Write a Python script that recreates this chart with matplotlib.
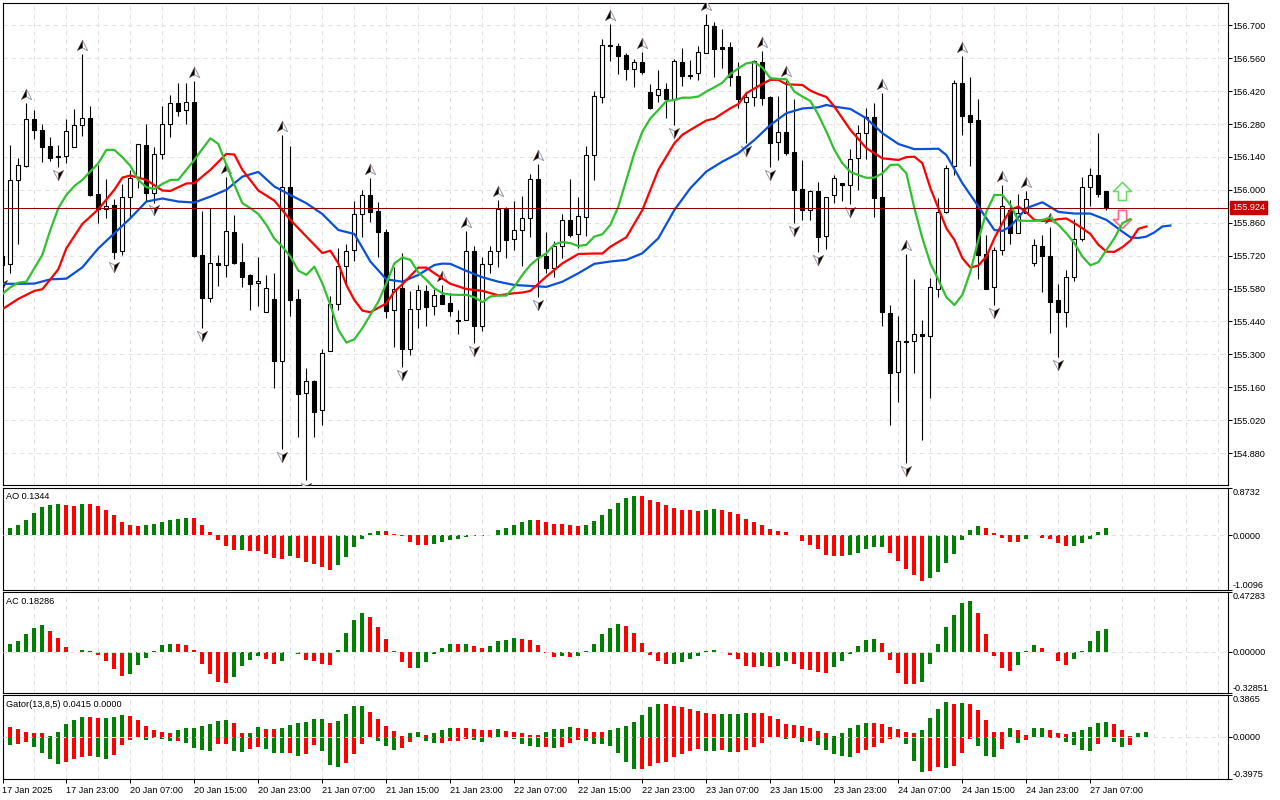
#===================================================================================
#=================================== Load Packages =================================
#===================================================================================

import matplotlib
matplotlib.use('Agg')
import matplotlib.pyplot as plt
from matplotlib.path import Path
from matplotlib.transforms import blended_transform_factory

plt.rcParams['font.family'] = ['Liberation Sans', 'DejaVu Sans']
plt.rcParams['font.size'] = 6.6

#===================================================================================
#=================================== Chart Data ====================================
#===================================================================================

open_p = [155.719,155.683,156.041,156.103,156.300,156.253,156.185,156.143,156.143,156.181,
156.275,156.304,155.981,155.917,155.934,155.739,155.968,156.056,156.190,155.988,
156.151,156.279,156.368,156.338,156.373,155.722,155.541,155.687,155.679,155.819,
155.692,155.636,155.602,155.482,155.534,155.273,156.014,155.534,155.134,155.185,
155.061,155.316,155.513,155.675,155.743,155.896,155.977,155.909,155.819,155.487,
155.581,155.324,155.492,155.568,155.504,155.553,155.517,155.445,155.445,155.739,
155.422,155.683,155.739,155.917,155.790,155.828,155.879,156.045,155.719,155.669,
155.760,155.870,155.811,155.886,156.147,156.394,156.615,156.611,156.573,156.513,
156.543,156.415,156.402,156.428,156.388,156.543,156.490,156.496,156.581,156.696,
156.607,156.607,156.483,156.373,156.394,156.543,156.394,156.202,156.245,156.160,
156.002,155.913,155.994,155.802,155.977,156.028,156.019,156.134,156.241,156.309,
155.968,155.475,155.224,155.353,155.356,155.385,155.377,155.577,155.904,156.100,
156.453,156.317,156.296,155.726,155.585,155.743,155.913,155.815,155.900,155.687,
155.760,155.717,155.530,155.479,155.631,155.792,156.011,156.062,155.994]

high_p = [155.815,156.191,156.134,156.368,156.340,156.279,156.224,156.191,156.300,156.343,
156.578,156.356,156.106,156.045,155.960,156.024,156.085,156.194,156.279,156.181,
156.356,156.402,156.453,156.453,156.463,155.909,155.924,155.722,156.056,155.892,
155.773,155.641,155.713,155.636,155.645,156.234,156.187,155.577,155.241,155.190,
155.322,155.548,155.751,155.768,155.951,155.998,156.049,155.947,155.832,155.670,
155.730,155.570,155.595,155.595,155.577,155.595,155.560,155.487,155.825,155.761,
155.713,155.761,155.957,155.926,155.953,155.974,156.068,156.110,155.819,155.781,
155.896,156.046,155.970,156.187,156.421,156.641,156.706,156.624,156.581,156.556,
156.587,156.451,156.510,156.453,156.556,156.604,156.553,156.611,156.748,156.716,
156.683,156.628,156.543,156.411,156.553,156.591,156.400,156.400,156.468,156.385,
156.127,155.998,156.032,155.968,156.062,156.028,156.174,156.275,156.347,156.368,
156.411,155.509,155.462,155.726,155.619,155.445,155.624,155.964,156.104,156.466,
156.568,156.479,156.385,155.807,155.756,156.019,155.956,155.981,155.994,155.790,
155.807,155.841,155.598,155.658,155.875,156.053,156.092,156.241,155.994]

low_p = [155.631,155.648,155.770,156.096,156.215,156.120,156.124,156.099,156.116,156.181,
156.229,155.975,155.858,155.882,155.704,155.723,155.886,156.007,155.954,155.946,
156.130,156.226,156.312,156.278,155.716,155.411,155.524,155.591,155.631,155.685,
155.588,155.490,155.507,155.478,155.158,154.897,155.461,154.950,154.766,154.950,
154.999,155.316,155.489,155.602,155.699,155.801,155.865,155.713,155.456,155.333,
155.248,155.299,155.414,155.422,155.468,155.514,155.463,155.388,155.444,155.350,
155.401,155.645,155.673,155.710,155.744,155.676,155.798,155.546,155.645,155.628,
155.709,155.801,155.751,155.805,156.042,156.371,156.550,156.493,156.468,156.439,
156.493,156.343,156.374,156.307,156.276,156.442,156.470,156.468,156.581,156.482,
156.519,156.442,156.346,156.198,156.357,156.360,156.099,156.127,156.147,155.860,
155.872,155.872,155.737,155.750,155.946,155.954,155.941,156.000,156.133,155.886,
155.422,154.999,155.099,154.839,155.222,154.937,155.116,155.546,155.900,156.061,
156.235,156.103,155.619,155.577,155.510,155.723,155.768,155.815,155.900,155.676,
155.567,155.390,155.287,155.415,155.614,155.784,155.931,155.971,155.912]

close_p = [155.680,156.041,156.104,156.300,156.253,156.184,156.137,156.139,156.249,156.275,
156.304,155.980,155.917,155.933,155.737,155.968,156.052,156.194,155.988,156.151,
156.279,156.368,156.337,156.373,155.719,155.541,155.687,155.679,155.824,155.687,
155.631,155.601,155.611,155.581,155.273,156.014,155.533,155.133,155.185,155.056,
155.304,155.513,155.675,155.739,155.896,155.977,155.904,155.819,155.486,155.577,
155.324,155.492,155.573,155.503,155.551,155.514,155.486,155.441,155.739,155.422,
155.683,155.739,155.917,155.787,155.828,155.879,156.045,155.719,155.669,155.761,
155.870,155.807,155.887,156.147,156.398,156.615,156.611,156.571,156.512,156.543,
156.502,156.346,156.428,156.385,156.547,156.486,156.485,156.585,156.700,156.601,
156.601,156.482,156.385,156.394,156.547,156.392,156.201,156.245,156.158,155.998,
155.912,155.994,155.801,155.968,156.049,156.019,156.130,156.241,156.309,155.967,
155.478,155.222,155.356,155.356,155.385,155.377,155.585,155.904,156.092,156.453,
156.316,156.290,155.724,155.580,155.743,155.930,155.815,155.900,155.960,155.764,
155.717,155.524,155.479,155.631,155.792,156.011,156.062,155.984,155.926]

jaw_x = [0,2,4,6,8,10,12,14,16,18,20,22,24,26,28,30,32,34,36,38,40,42,44,46,48,50,52,54,55,56,58,60,
62,64,66,68,70,72,74,76,78,80,82,84,86,88,90,92,94,96,98,100,102,103,104,106,108,110,112,114,116,117,
118,120,122,124,125,126,128,130,132,134,136,138,140,141,142,143,144,145,146]
jaw_y = [155.600,155.600,155.601,155.619,155.622,155.670,155.751,155.815,155.879,155.950,155.963,155.950,
155.946,155.971,156.000,156.056,156.076,156.014,155.978,155.943,155.897,155.829,155.812,155.695,155.619,
155.609,155.638,155.680,155.686,155.685,155.655,155.628,155.609,155.595,155.591,155.587,155.609,155.645,
155.685,155.695,155.702,155.730,155.794,155.914,156.007,156.078,156.120,156.156,156.212,156.276,156.326,
156.346,156.351,156.361,156.354,156.344,156.304,156.241,156.195,156.173,156.174,156.175,156.148,156.028,
155.929,155.829,155.825,155.844,155.922,155.947,155.906,155.899,155.899,155.872,155.822,155.798,155.795,
155.801,155.819,155.844,155.848]

teeth_x = [0,2,4,5,6,7,8,10,12,14,15,16,18,20,21,23,24,26,28,29,30,32,34,36,38,40,41,42,43,44,45,46,48,49,
50,52,53,54,56,58,60,62,64,65,66,68,70,72,74,75,76,78,80,82,84,85,86,88,89,91,92,93,95,96,97,98,100,101,
102,103,104,106,108,110,112,113,114,115,116,118,119,120,121,122,123,124,125,126,127,128,129,130,131,132,
133,134,135,136,137,138,139,140,141,142,143]
teeth_y = [155.492,155.536,155.570,155.577,155.619,155.662,155.751,155.855,155.917,156.000,156.052,156.061,
156.042,155.997,155.995,156.027,156.028,156.085,156.153,156.150,156.085,155.997,155.954,155.872,155.801,
155.731,155.741,155.687,155.595,155.531,155.486,155.479,155.517,155.567,155.598,155.669,155.669,155.645,
155.600,155.578,155.570,155.551,155.560,155.563,155.570,155.631,155.687,155.727,155.729,155.729,155.758,
155.798,155.914,156.085,156.198,156.234,156.255,156.295,156.303,156.347,156.365,156.411,156.451,156.468,
156.468,156.449,156.446,156.422,156.407,156.395,156.354,156.255,156.177,156.134,156.127,156.139,156.141,
156.113,156.007,155.836,155.787,155.709,155.669,155.678,155.716,155.794,155.858,155.914,155.929,155.904,
155.872,155.868,155.869,155.875,155.878,155.858,155.836,155.812,155.766,155.737,155.736,155.756,155.784,
155.834,155.844]

lips_y = [155.557,155.585,155.605,155.609,155.666,155.723,155.829,155.922,155.978,156.016,
156.042,156.078,156.113,156.170,156.170,156.139,156.102,156.042,156.011,156.004,
156.025,156.042,156.043,156.085,156.127,156.174,156.219,156.195,156.106,156.021,
155.943,155.922,155.897,155.851,155.792,155.758,155.716,155.656,155.638,155.673,
155.602,155.510,155.404,155.350,155.364,155.411,155.468,155.524,155.602,155.687,
155.712,155.702,155.648,155.617,155.581,155.560,155.554,155.553,155.553,155.543,
155.522,155.546,155.550,155.550,155.588,155.638,155.680,155.709,155.730,155.768,
155.778,155.773,155.761,155.766,155.801,155.811,155.851,155.929,156.042,156.156,
156.248,156.304,156.340,156.378,156.382,156.392,156.392,156.397,156.418,156.436,
156.456,156.493,156.517,156.538,156.543,156.520,156.475,156.472,156.470,156.418,
156.397,156.378,156.319,156.248,156.170,156.113,156.076,156.063,156.051,156.052,
156.070,156.106,156.107,156.070,155.922,155.794,155.687,155.617,155.543,155.510,
155.553,155.652,155.787,155.907,155.978,155.978,155.936,155.869,155.868,155.868,
155.872,155.882,155.851,155.815,155.773,155.716,155.679,155.692,155.744,155.794,
155.858,155.875]

fractal_up = [3,10,24,28,35,46,55,58,62,67,76,80,88,95,98,110,113,120,125,128,131]
fractal_down = [0,7,14,19,25,35,38,50,59,67,84,93,96,99,102,106,113,124,132]

ao = [.073,.128,.183,.275,.403,.513,.550,.569,.550,.532,
.569,.569,.532,.458,.367,.238,.183,.165,.183,.202,
.238,.275,.293,.312,.312,.183,.055,-.092,-.202,-.275,
-.275,-.293,-.293,-.348,-.422,-.440,-.385,-.422,-.495,-.532,
-.587,-.642,-.550,-.403,-.220,-.073,.037,.073,.073,.018,
-.018,-.128,-.183,-.183,-.165,-.128,-.092,-.073,-.037,-.012,
-.012,.012,.092,.128,.183,.238,.275,.275,.238,.202,
.202,.183,.165,.183,.257,.367,.477,.587,.679,.715,
.715,.642,.605,.550,.495,.458,.458,.440,.458,.477,
.458,.422,.385,.293,.238,.183,.110,.073,.055,.006,
-.110,-.183,-.257,-.367,-.385,-.385,-.367,-.330,-.257,-.220,
-.220,-.330,-.477,-.624,-.734,-.844,-.789,-.679,-.513,-.348,
-.092,.092,.165,.128,.037,-.055,-.128,-.128,-.073,.006,
-.055,-.073,-.147,-.202,-.202,-.147,-.073,.055,.134]
ao_dir = """u u u u u u u u d d
u d d d d d d d u u
u u u u d d d d d d
u d d d d d u d d d
d d u u u u u u d d
d d d d u u u u u u
u u u u u u u d d d
d d d u u u u u u u
d d d d d d d d u u
d d d d d d d d d d
d d d d d d u u u u
u d d d d d u u u u
u u u d d d d d u u
d d d d u u u u u""".split()

ac = [.040,.064,.088,.143,.191,.215,.167,.111,.040,-.005,
.016,.008,-.024,-.072,-.135,-.191,-.175,-.103,-.048,.008,
.056,.064,.064,.056,.016,-.096,-.175,-.239,-.247,-.199,
-.111,-.064,-.032,-.056,-.096,-.072,-.003,-.016,-.064,-.072,
-.096,-.103,.016,.151,.255,.310,.279,.199,.103,.003,
-.080,-.127,-.127,-.080,-.016,.032,.064,.064,.064,.048,
.032,.048,.088,.096,.111,.103,.096,.056,-.008,-.040,
-.032,-.040,-.032,.003,.064,.143,.191,.223,.207,.151,
.072,-.024,-.072,-.096,-.096,-.080,-.056,-.032,.008,.016,
-.005,-.024,-.056,-.111,-.119,-.111,-.119,-.111,-.072,-.096,
-.135,-.143,-.159,-.167,-.119,-.072,-.016,.048,.096,.103,
.072,-.064,-.167,-.255,-.255,-.239,-.096,.064,.199,.295,
.390,.406,.310,.143,-.032,-.127,-.151,-.103,.003,.056,
.032,-.005,-.072,-.103,-.056,.008,.088,.167,.183]
ac_dir = """d u u u u u d d d d
u d d d d d u u u u
u u d d d d d d d u
u u u d d u u d d d
d d u u u u d d d d
d d u u u u u d u d
d u u u u d d d d d
u d u u u u u u d d
d d d d u u u u u u
d d d d d u d u u d
d d d d u u u u u u
d d d d d u u u u u
u u d d d d d u u u
d d d d u u u u u""".split()

gator_up = [.106,.087,.068,.040,.031,.031,.003,.040,.115,.152,
.180,.180,.171,.171,.180,.199,.190,.152,.096,.059,
.040,.031,.059,.078,.078,.096,.115,.143,.152,.124,
.031,.031,.087,.068,.068,.078,.106,.124,.134,.162,
.162,.124,.143,.208,.283,.283,.227,.162,.096,.050,
.003,.031,.040,.012,.031,.059,.078,.078,.078,.068,
.059,.059,.068,.050,.040,.031,.012,.012,.040,.068,
.068,.087,.078,.068,.040,.040,.059,.078,.096,.134,
.199,.274,.302,.302,.283,.274,.255,.236,.218,.208,
.208,.208,.208,.218,.218,.218,.190,.162,.115,.106,
.096,.078,.050,.031,.003,.031,.078,.106,.124,.124,
.115,.087,.068,.040,.031,.059,.171,.255,.320,.302,
.311,.302,.246,.152,.040,.040,.078,.059,.012,.078,
.078,.059,.031,.022,.040,.059,.087,.124,.134,.115,
.059,.003,.031,.040]
gator_up_dir = """d d d d d d u u u u
u d d u u u d d d d
d d u u u u u u u d
d u u d d u u u u u
u d u u u u d d d d
d u u d u u u d d d
d d u d d d d d u u
u u d d d d u u u u
u u u d d d d d d d
u u u u d d d d d d
d d d d u u u u u d
d d d d d u u u u d
u d d d d d u d d u
u d d d u u u u u d
d d u u""".split()

gator_lo = [-.065,-.081,-.072,-.053,-.100,-.156,-.212,-.258,-.240,-.212,
-.193,-.184,-.193,-.212,-.174,-.081,-.034,-.003,-.034,-.016,
-.025,-.044,-.044,-.062,-.109,-.128,-.137,-.072,-.072,-.137,
-.146,-.118,-.100,-.118,-.156,-.156,-.156,-.184,-.165,-.081,
-.137,-.268,-.286,-.249,-.165,-.072,-.003,-.044,-.090,-.128,
-.109,-.053,-.003,-.044,-.062,-.062,-.044,-.044,-.025,-.034,
-.053,-.016,-.006,-.006,-.025,-.072,-.090,-.100,-.100,-.109,
-.100,-.062,-.034,-.044,-.072,-.072,-.090,-.156,-.240,-.305,
-.305,-.277,-.249,-.240,-.193,-.165,-.137,-.118,-.137,-.137,
-.128,-.146,-.146,-.128,-.100,-.062,-.003,-.003,-.025,-.016,
-.053,-.044,-.081,-.128,-.165,-.184,-.193,-.156,-.128,-.100,
-.062,-.025,-.016,-.072,-.230,-.333,-.324,-.286,-.296,-.277,
-.156,-.025,-.090,-.184,-.193,-.118,-.006,-.062,-.034,-.003,
-.003,-.016,-.016,-.053,-.081,-.128,-.137,-.072,-.003,-.053,
-.100,-.081,-.003,-.003]
gator_lo_dir = """u u d d u u u u d d
d d u u d d d d u d
u u d u u u u d d u
u d d u u u d u d d
u u u d d d d u u u
d d u u u d d d d u
u d d u u u u u d u
d d d u u u u u u u
d d d d d d d d u u
d u d d d d d d u d
u d u u u u u d d d
d d d u u u d d u d
d d u u u d u u d u
u u d u u u u d u u
u d d d""".split()

price_ticks = [156.70,156.56,156.42,156.28,156.14,156.00,155.86,155.72,155.58,155.44,155.30,155.16,155.02,154.88]
last_price = 155.924
time_labels = ['17 Jan 2025','17 Jan 23:00','20 Jan 07:00','20 Jan 15:00','20 Jan 23:00','21 Jan 07:00',
               '21 Jan 15:00','21 Jan 23:00','22 Jan 07:00','22 Jan 15:00','22 Jan 23:00','23 Jan 07:00',
               '23 Jan 15:00','23 Jan 23:00','24 Jan 07:00','24 Jan 15:00','24 Jan 23:00','27 Jan 07:00']

#===================================================================================
#=================================== Set Up Figure =================================
#===================================================================================

W, H = 1280, 800
GREEN, RED = '#008000', '#ff0000'
GRID = '#e2e2e2'

def make_axes(top, bottom):
    return fig.add_axes([2.5 / W, 1 - bottom / H, 1225.5 / W, (bottom - top) / H])

def setup_axes(ax, ymin, ymax):
    ax.set_xlim(0.02, 153.2)
    ax.set_ylim(ymin, ymax)
    ax.yaxis.tick_right()
    ax.tick_params(axis='y', length=3, width=0.72, pad=0.4, labelsize=6.6)
    ax.tick_params(axis='x', length=0, labelbottom=False)
    for spine in ax.spines.values():
        spine.set_linewidth(0.8)
    for v in range(4, 153, 4):
        ax.axvline(v, color=GRID, lw=0.75, ls=(0, (4, 4)), zorder=0)

fig = plt.figure(figsize=(W / 100, H / 100), dpi=100, facecolor='white')
ax_main = make_axes(2.5, 485)
ax_ao = make_axes(487.7, 590.3)
ax_ac = make_axes(592.3, 693)
ax_gator = make_axes(695.3, 779.3)

#===================================================================================
#=================================== Price Panel ===================================
#===================================================================================

setup_axes(ax_main, 154.744, 156.797)
for p in price_ticks:
    ax_main.axhline(p, color=GRID, lw=0.75, ls=(0, (4, 4)), zorder=0)
ax_main.set_yticks(price_ticks, ['%.3f' % p for p in price_ticks])

bars_x = list(range(len(open_p)))
ax_main.vlines(bars_x, low_p, high_p, color='black', lw=0.8, zorder=2)
tops = [max(o, c) for o, c in zip(open_p, close_p)]
bots = [min(o, c) for o, c in zip(open_p, close_p)]
body_colors = ['white' if c >= o else 'black' for o, c in zip(open_p, close_p)]
ax_main.bar(bars_x, [t - b for t, b in zip(tops, bots)], bottom=bots, width=0.5,
            color=body_colors, edgecolor='black', linewidth=0.8, zorder=3)

# fractal arrowheads, half black and half white
up_dark = Path([(0, 1), (-1, -1), (0, -0.45), (0, 1)], closed=True)
up_light = Path([(0, 1), (1, -1), (0, -0.45), (0, 1)], closed=True)
down_dark = Path([(0, -1), (1, 1), (0, 0.45), (0, -1)], closed=True)
down_light = Path([(0, -1), (-1, 1), (0, 0.45), (0, -1)], closed=True)
up_y = [high_p[i] + 0.038 for i in fractal_up]
down_y = [low_p[i] - 0.034 for i in fractal_down]
ax_main.plot(fractal_up, up_y, ls='', marker=up_light, ms=7.5, mfc='white', mec='#9a9aa8', mew=0.7, zorder=4)
ax_main.plot(fractal_up, up_y, ls='', marker=up_dark, ms=7.5, mfc='black', mec='#6a5040', mew=0.3, zorder=4)
ax_main.plot(fractal_down, down_y, ls='', marker=down_light, ms=7.5, mfc='white', mec='#9a9aa8', mew=0.7, zorder=4)
ax_main.plot(fractal_down, down_y, ls='', marker=down_dark, ms=7.5, mfc='black', mec='#6a5040', mew=0.3, zorder=4)

# alligator lines
ax_main.plot(jaw_x, jaw_y, color='#0a50d8', lw=1.6, zorder=5)
ax_main.plot(teeth_x, teeth_y, color='#ff0000', lw=1.6, zorder=6)
ax_main.plot(range(len(lips_y)), lips_y, color='#30c030', lw=1.6, zorder=7)

# hollow buy and sell arrows on the right
arrow_up = Path([(0, 1), (1, 0), (0.45, 0), (0.45, -1), (-0.45, -1), (-0.45, 0), (-1, 0), (0, 1)], closed=True)
arrow_down = Path([(0, -1), (1, 0), (0.45, 0), (0.45, 1), (-0.45, 1), (-0.45, 0), (-1, 0), (0, -1)], closed=True)
ax_main.plot([140], [155.993], ls='', marker=arrow_up, ms=13, mfc='white', mec='#66dd66', mew=1.2, zorder=8)
ax_main.plot([140], [155.875], ls='', marker=arrow_down, ms=13, mfc='white', mec='#ff6688', mew=1.2, zorder=4)

# last price line and tag
ax_main.axhline(last_price, color='#8c0000', lw=0.72, zorder=9)
trans = blended_transform_factory(ax_main.transAxes, ax_main.transData)
ax_main.annotate('%.3f' % last_price, xy=(1, last_price), xycoords=trans, xytext=(4, 0),
                 textcoords='offset pixels', color='white', va='center', ha='left', fontsize=6.6,
                 bbox=dict(boxstyle='square,pad=0.25', fc='#c80000', ec='#c80000'), annotation_clip=False, zorder=10)

#===================================================================================
#=================================== Oscillators ===================================
#===================================================================================

def dir_colors(flags):
    return [GREEN if f == 'u' else RED for f in flags]

def osc_ticks(ax, ymin, ymax, fmt):
    ax.set_yticks([ymin, 0, ymax], [fmt % ymin, fmt % 0, fmt % ymax])
    labels = ax.get_yticklabels()
    labels[0].set_va('bottom')
    labels[2].set_va('top')

def panel_title(ax, y, text):
    ax.text(0.45, y, text, transform=blended_transform_factory(ax.transData, ax.transAxes),
            va='center', ha='left', fontsize=6.6)

setup_axes(ax_ao, -1.0096, 0.8732)
ax_ao.bar(range(len(ao)), ao, width=0.5, color=dir_colors(ao_dir), zorder=2)
ax_ao.axhline(0, color=GRID, lw=0.75, ls=(0, (4, 4)), zorder=3)
osc_ticks(ax_ao, -1.0096, 0.8732, '%.4f')
panel_title(ax_ao, 0.915, 'AO 0.1344')

setup_axes(ax_ac, -0.32851, 0.47283)
ax_ac.bar(range(len(ac)), ac, width=0.5, color=dir_colors(ac_dir), zorder=2)
ax_ac.axhline(0, color=GRID, lw=0.75, ls=(0, (4, 4)), zorder=3)
osc_ticks(ax_ac, -0.32851, 0.47283, '%.5f')
panel_title(ax_ac, 0.905, 'AC 0.18286')

setup_axes(ax_gator, -0.3975, 0.3865)
ax_gator.bar(range(len(gator_up)), gator_up, width=0.5, color=dir_colors(gator_up_dir), zorder=2)
ax_gator.bar(range(len(gator_lo)), gator_lo, width=0.5, color=dir_colors(gator_lo_dir), zorder=2)
ax_gator.axhline(0, color=GRID, lw=0.75, ls=(0, (4, 4)), zorder=3)
osc_ticks(ax_gator, -0.3975, 0.3865, '%.4f')
panel_title(ax_gator, 0.885, 'Gator(13,8,5) 0.0415 0.0000')

ax_gator.set_xticks(range(0, len(time_labels) * 8, 8), time_labels)
ax_gator.tick_params(axis='x', length=3, width=0.72, pad=1.5, labelbottom=True, labelsize=6.6)
for lab in ax_gator.get_xticklabels():
    lab.set_ha('left')

fig.savefig('out.png', dpi=100)
